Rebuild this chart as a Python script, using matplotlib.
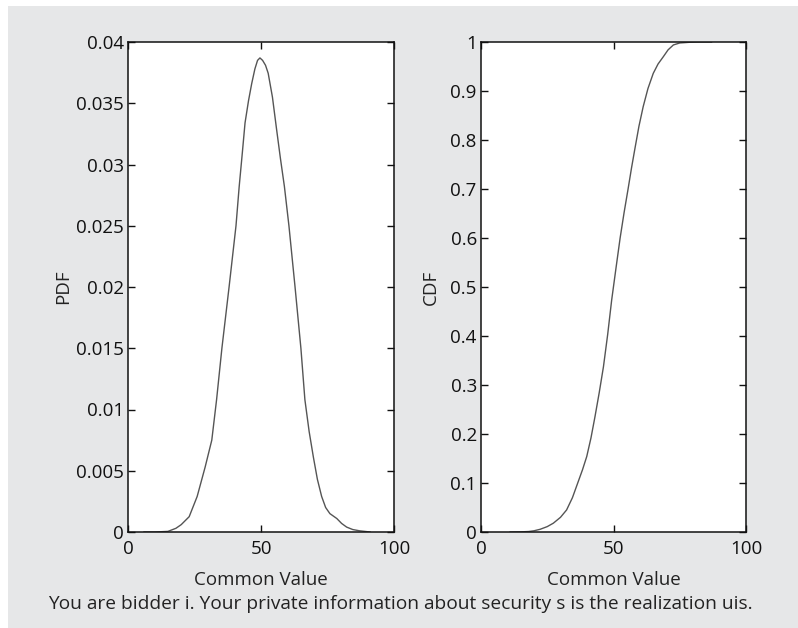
import matplotlib
matplotlib.use("Agg")
import matplotlib.pyplot as plt
from matplotlib.patches import Rectangle

plt.rcParams['font.family'] = ['Open Sans', 'DejaVu Sans']
plt.rcParams['lines.solid_joinstyle'] = 'round'

# PDF curve
pdf_x = [6, 10, 15, 18, 20, 23, 26, 29, 31.5, 33.3, 35.3, 38, 40.6, 41.8, 43, 44,
         45.3, 46.5, 47.7, 48.7, 49.6, 50.6, 51.7, 52.7, 54.3, 55.9, 57.3, 58.8,
         60.5, 62.8, 65, 66.5, 68.1, 69.7, 71.2, 72.8, 74.3, 75.9, 78.5, 80.3,
         82.2, 84.5, 87, 91]
pdf_y = [0, 0, 0.00005, 0.0003, 0.0006, 0.00125, 0.0029, 0.0053, 0.0075, 0.0108,
         0.015, 0.02, 0.025, 0.0282, 0.0310, 0.0334, 0.0352, 0.0366, 0.0378, 0.0385,
         0.0387, 0.0385, 0.0381, 0.03745, 0.0355, 0.0328, 0.0305, 0.0282,
         0.025, 0.02, 0.015, 0.0108, 0.0082, 0.0061, 0.0043, 0.0029, 0.0020, 0.0015,
         0.0011, 0.0007, 0.0004, 0.0002, 0.0001, 0]

# CDF curve
cdf_x = [11, 15, 18, 20, 22.3, 25, 27.3, 30, 32.3, 34.5, 36.7, 38.3, 39.9, 41.5,
         43, 44.6, 46.2, 47.8, 49.3, 50.9, 52.5, 54, 55.5, 56.8, 58.1, 59.6, 61.2,
         63, 65, 66.8, 68.8, 70.6, 72.6, 75, 78.9, 83, 87]
cdf_y = [0, 0.0003, 0.001, 0.0025, 0.0055, 0.011, 0.018, 0.030, 0.045, 0.070, 0.103,
         0.127, 0.154, 0.192, 0.235, 0.284, 0.337, 0.403, 0.473, 0.537, 0.6, 0.652,
         0.7, 0.743, 0.783, 0.828, 0.868, 0.905, 0.936, 0.955, 0.97, 0.984, 0.994,
         0.998, 0.9995, 1.0, 1.0]

x_ticks = [0, 50, 100]
pdf_ticks = [0, 0.005, 0.01, 0.015, 0.02, 0.025, 0.03, 0.035, 0.04]
pdf_labels = ['0', '0.005', '0.01', '0.015', '0.02', '0.025', '0.03', '0.035', '0.04']
cdf_ticks = [0, 0.1, 0.2, 0.3, 0.4, 0.5, 0.6, 0.7, 0.8, 0.9, 1.0]
cdf_labels = ['0', '0.1', '0.2', '0.3', '0.4', '0.5', '0.6', '0.7', '0.8', '0.9', '1']

caption = "You are bidder i. Your private information about security s is the realization uis."

W, H = 798, 628
fig = plt.figure(figsize=(W / 100, H / 100), dpi=100, facecolor='white')
fig.patches.append(Rectangle((8 / W, 0), 1 - 8 / W, 1 - 6 / H, transform=fig.transFigure,
                             facecolor='#e6e7e8', edgecolor='none', zorder=-10))

line_color = '#555555'
fs = 13.5


def style(ax):
    ax.set_facecolor('white')
    for s in ax.spines.values():
        s.set_linewidth(1.1)
        s.set_color('#111111')
    ax.tick_params(direction='in', length=5, width=1, top=True, right=True,
                   labelsize=fs, colors='#111111', pad=3)
    ax.tick_params(axis='x', pad=6)
    ax.set_xlim(0, 100)
    ax.set_xticks(x_ticks)
    ax.set_xticklabels([str(t) for t in x_ticks])
    ax.set_xlabel('Common Value', fontsize=fs, color='#222222', labelpad=9)


bottom = 1 - 532 / H
height = (532 - 42) / H

ax1 = fig.add_axes([128 / W, bottom, (394 - 128) / W, height])
ax1.plot(pdf_x, pdf_y, color=line_color, lw=1.0)
style(ax1)
ax1.set_ylim(0, 0.04)
ax1.set_yticks(pdf_ticks)
ax1.set_yticklabels(pdf_labels)
ax1.set_ylabel('PDF', fontsize=fs, color='#222222', labelpad=3)

ax2 = fig.add_axes([481 / W, bottom, (746 - 481) / W, height])
ax2.plot(cdf_x, cdf_y, color=line_color, lw=1.0)
style(ax2)
ax2.set_ylim(0, 1)
ax2.set_yticks(cdf_ticks)
ax2.set_yticklabels(cdf_labels)
ax2.set_ylabel('CDF', fontsize=fs, color='#222222', labelpad=7.5)

fig.text(400 / W, 1 - 604 / H, caption, ha='center', va='center', fontsize=13.8,
         color='#222222')

fig.savefig('out.png', dpi=100, facecolor=fig.get_facecolor())
